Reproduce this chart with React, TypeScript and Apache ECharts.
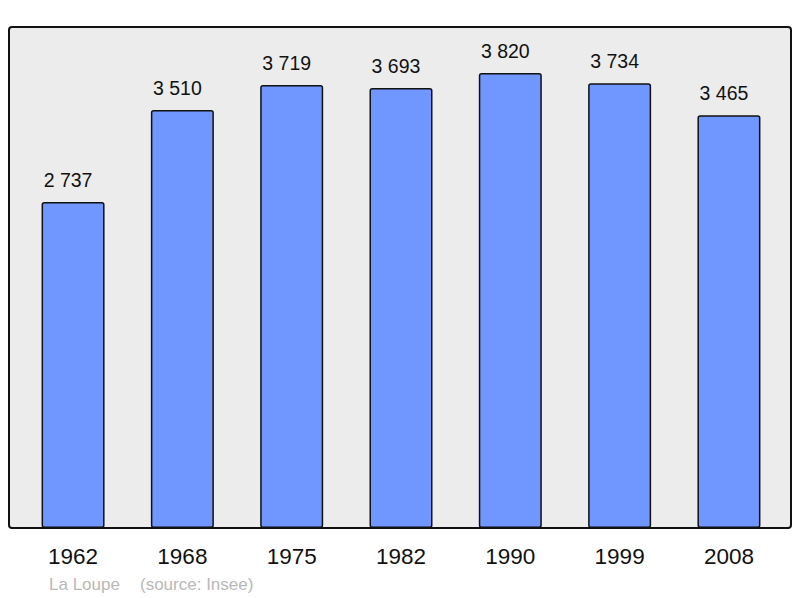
import React, { useEffect, useRef } from "react";
import * as echarts from "echarts";

const years = ["1962", "1968", "1975", "1982", "1990", "1999", "2008"];
const population = [2737, 3510, 3719, 3693, 3820, 3734, 3465];
const townName = "La Loupe";
const sourceText = "(source: Insee)";

const fmt = (v: number) => {
  const s = String(v);
  return s.replace(/\B(?=(\d{3})+(?!\d))/g, " ");
};

export default function App() {
  const ref = useRef<HTMLDivElement>(null);
  useEffect(() => {
    if (!ref.current) return;
    const chart = echarts.init(ref.current, undefined, { renderer: "svg" });
    chart.setOption({
      animation: false,
      backgroundColor: "#ffffff",
      textStyle: { fontFamily: "Liberation Sans, Arial, sans-serif" },
      grid: { left: 18.4, right: 16.4, top: 27, bottom: 70 },
      graphic: [
        {
          type: "rect",
          z: -10,
          shape: { x: 9, y: 27, width: 782, height: 501, r: 3 },
          style: { fill: "#ececec", stroke: "#111", lineWidth: 2 },
        },
        {
          type: "text",
          x: 49,
          y: 576,
          style: {
            text: townName,
            font: "17px 'Liberation Sans', Arial, sans-serif",
            fill: "#b8b8b8",
          },
        },
        {
          type: "text",
          x: 140,
          y: 576,
          style: {
            text: sourceText,
            font: "17px 'Liberation Sans', Arial, sans-serif",
            fill: "#b8b8b8",
          },
        },
      ],
      xAxis: {
        type: "category",
        data: years,
        axisLine: { show: false },
        axisTick: { show: false },
        axisLabel: {
          fontSize: 22.5,
          color: "#111",
          margin: 17,
          fontFamily: "Liberation Sans, Arial, sans-serif",
        },
      },
      yAxis: {
        type: "value",
        min: 0,
        max: 4206,
        show: false,
        splitLine: { show: false },
      },
      series: [
        {
          type: "bar",
          data: population,
          barWidth: 63,
          itemStyle: {
            color: "#7096ff",
            borderColor: "#111",
            borderWidth: 1.5,
            borderRadius: 2,
          },
          label: {
            show: true,
            position: "top",
            distance: 12,
            offset: [-5, 0],
            fontSize: 19.5,
            color: "#111",
            fontFamily: "Liberation Sans, Arial, sans-serif",
            formatter: (p: any) => fmt(p.value),
          },
        },
      ],
    });
    return () => chart.dispose();
  }, []);
  return <div ref={ref} style={{ width: 800, height: 598, position: "absolute", left: 0, top: 0 }} />;
}
